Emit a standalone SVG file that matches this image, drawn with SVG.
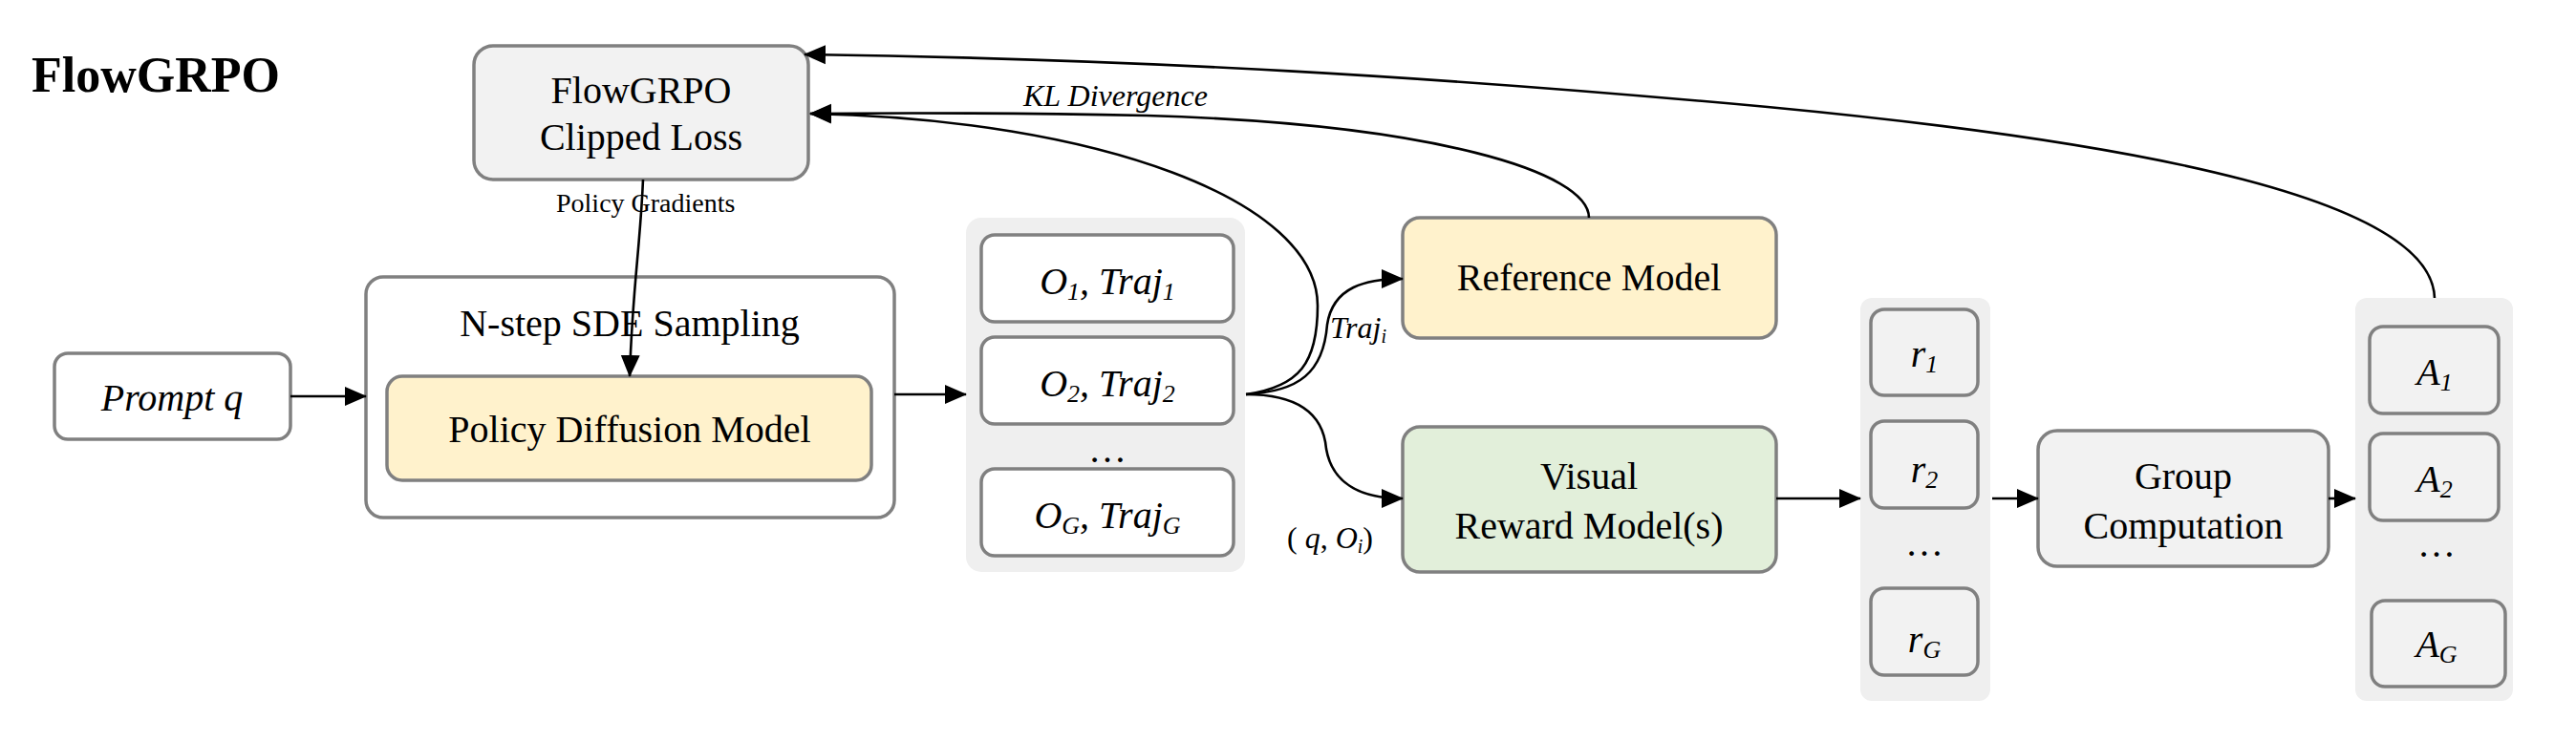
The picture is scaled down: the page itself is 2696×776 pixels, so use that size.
<svg xmlns="http://www.w3.org/2000/svg" width="2696" height="776" viewBox="0 0 2696 776">
<style>
text{font-family:"Liberation Serif","Times New Roman",serif;fill:#000}
.box{stroke:#808080;stroke-width:3.5}
.g{fill:#f2f2f2}.w{fill:#fff}.y{fill:#fff2cc}.gr{fill:#e2efda}
.bg{fill:#efefef}
.t{font-size:40px;text-anchor:middle}
.i{font-style:italic}
.c{fill:none;stroke:#000;stroke-width:2.6}
.s{font-size:26px}
</style>
<defs>
<marker id="ah" markerUnits="userSpaceOnUse" markerWidth="24" markerHeight="24" viewBox="0 0 24 24" refX="22" refY="12" orient="auto">
<path d="M0,2 L23,12 L0,22 Z" fill="#000"/>
</marker>
</defs>
<text x="33" y="96" font-size="52" font-weight="bold">FlowGRPO</text>

<g id="loss"><rect class="box g" x="496" y="48" width="350" height="140" rx="20"/>
<text class="t" x="671" y="108">FlowGRPO</text><text class="t" x="671" y="157">Clipped Loss</text></g>

<g id="prompt"><rect class="box w" x="57" y="370" width="247" height="90" rx="14"/>
<text class="t i" x="180" y="430">Prompt q</text></g>

<g id="sde"><rect class="box w" x="383" y="290" width="553" height="252" rx="18"/>
<text class="t" x="659" y="352">N-step SDE Sampling</text></g>
<g id="policy"><rect class="box y" x="405" y="394" width="507" height="109" rx="16"/>
<text class="t" x="659" y="463">Policy Diffusion Model</text></g>

<g id="outputs"><rect class="bg" x="1011" y="228" width="292" height="371" rx="16"/>
<rect class="box w" x="1027" y="246" width="264" height="91" rx="14"/>
<text class="t i" x="1159" y="308">O<tspan class="s" dy="6">1</tspan><tspan dy="-6">, Traj</tspan><tspan class="s" dy="6">1</tspan></text>
<rect class="box w" x="1027" y="353" width="264" height="91" rx="14"/>
<text class="t i" x="1159" y="415">O<tspan class="s" dy="6">2</tspan><tspan dy="-6">, Traj</tspan><tspan class="s" dy="6">2</tspan></text>
<text class="t" x="1159" y="484">…</text>
<rect class="box w" x="1027" y="491" width="264" height="91" rx="14"/>
<text class="t i" x="1159" y="553">O<tspan class="s" dy="6">G</tspan><tspan dy="-6">, Traj</tspan><tspan class="s" dy="6">G</tspan></text></g>

<g id="ref"><rect class="box y" x="1468" y="228" width="391" height="126" rx="18"/>
<text class="t" x="1663" y="304">Reference Model</text></g>
<g id="reward"><rect class="box gr" x="1468" y="447" width="391" height="152" rx="18"/>
<text class="t" x="1663" y="512">Visual</text><text class="t" x="1663" y="564">Reward Model(s)</text></g>

<g id="rewards"><rect class="bg" x="1947" y="312" width="136" height="422" rx="12"/>
<rect class="box g" x="1958" y="324" width="112" height="90" rx="14"/>
<text class="t i" x="2014" y="384">r<tspan class="s" dy="6">1</tspan></text>
<rect class="box g" x="1958" y="441" width="112" height="91" rx="14"/>
<text class="t i" x="2014" y="505">r<tspan class="s" dy="6">2</tspan></text>
<text class="t" x="2014" y="582">…</text>
<rect class="box g" x="1958" y="616" width="112" height="91" rx="14"/>
<text class="t i" x="2014" y="683">r<tspan class="s" dy="6">G</tspan></text></g>

<g id="group"><rect class="box g" x="2133" y="451" width="304" height="142" rx="20"/>
<text class="t" x="2285" y="512">Group</text><text class="t" x="2285" y="564">Computation</text></g>

<g id="adv"><rect class="bg" x="2465" y="312" width="165" height="422" rx="12"/>
<rect class="box g" x="2480" y="342" width="135" height="91" rx="14"/>
<text class="t i" x="2548" y="403">A<tspan class="s" dy="6">1</tspan></text>
<rect class="box g" x="2480" y="454" width="135" height="91" rx="14"/>
<text class="t i" x="2548" y="515">A<tspan class="s" dy="6">2</tspan></text>
<text class="t" x="2550" y="583">…</text>
<rect class="box g" x="2482" y="629" width="140" height="90" rx="14"/>
<text class="t i" x="2550" y="688">A<tspan class="s" dy="6">G</tspan></text></g>

<g id="connectors">
<path class="c" d="M304,415 H383" marker-end="url(#ah)"/>
<path class="c" d="M673,188 C670,260 662,300 659,394" marker-end="url(#ah)"/>
<path class="c" d="M936,413 H1011" marker-end="url(#ah)"/>
<path class="c" d="M1304,413 C1360,410 1385,390 1389,340 C1395,300 1430,292 1468,292" marker-end="url(#ah)"/>
<path class="c" d="M1304,413 C1360,413 1385,435 1388,470 C1395,510 1430,522 1468,522" marker-end="url(#ah)"/>
<path class="c" d="M1304,413 C1360,405 1379,380 1379,320 C1379,210 1150,125 848,119" marker-end="url(#ah)"/>
<path class="c" d="M1663,228 C1663,180 1500,130 1200,121 C1050,118 950,118 848,119" marker-end="url(#ah)"/>
<path class="c" d="M2548,312 C2545,210 2250,150 1850,112 C1500,80 1200,62 842,57" marker-end="url(#ah)"/>
<path class="c" d="M1859,522 H1947" marker-end="url(#ah)"/>
<path class="c" d="M2085,522 H2133" marker-end="url(#ah)"/>
<path class="c" d="M2437,522 H2465" marker-end="url(#ah)"/>
</g>
<text x="582" y="222" font-size="28">Policy Gradients</text>
<text x="1071" y="111" font-size="32" class="i">KL Divergence</text>
<text x="1392" y="354" font-size="32" class="i">Traj<tspan font-size="20" dy="5">i</tspan></text>
<text x="1347" y="574" font-size="32">( <tspan class="i">q</tspan>, <tspan class="i">O</tspan><tspan font-size="20" dy="5" class="i">i</tspan><tspan dy="-5">)</tspan></text>
</svg>
